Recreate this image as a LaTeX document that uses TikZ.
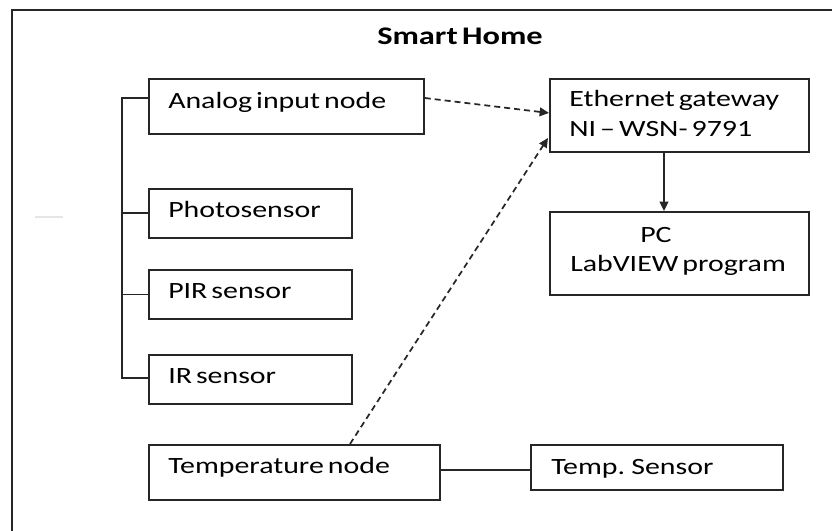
\documentclass[tikz,border=0pt]{standalone}
\usepackage{fontspec}
\setmainfont{Carlito}[FakeStretch=1.28,WordSpace=0.6]
\usetikzlibrary{arrows.meta}
\begin{document}
\begin{tikzpicture}[x=0.75pt,y=-0.75pt,
  ln/.style={line width=1.3pt,draw=black!85},
  box/.style={ln,rectangle,anchor=north west,inner sep=0pt},
  txt/.style={anchor=base west,inner sep=0pt,align=left,
    font=\fontsize{17.5}{22}\selectfont},
  dasharrow/.style={ln,dash pattern=on 4.5pt off 3pt,-{Triangle[length=7pt,width=6.5pt]}},
  solidarrow/.style={ln,-{Triangle[length=7pt,width=6.5pt]}}]
\useasboundingbox (0,0) rectangle (832,531);
\draw[ln] (12,10) rectangle (850,550);
\node[font=\bfseries\fontsize{19}{22}\selectfont,anchor=base west,inner sep=0pt] (title) at (377,45) {Smart Home};
% boxes
\node[box,minimum width=206.25pt,minimum height=41.25pt] (analog) at (148,78) {};
\node[box,minimum width=152.25pt,minimum height=36.75pt] (photo) at (148,188) {};
\node[box,minimum width=152.25pt,minimum height=36.75pt] (pir) at (148,269) {};
\node[box,minimum width=152.25pt,minimum height=36.75pt] (ir) at (148,354) {};
\node[box,minimum width=194.25pt,minimum height=54.75pt] (gw) at (549,78) {};
\node[box,minimum width=194.25pt,minimum height=62.25pt] (pc) at (549,211) {};
\node[box,minimum width=218.25pt,minimum height=41.25pt] (temp) at (148,444) {};
\node[box,minimum width=189pt,minimum height=33.75pt] (tsens) at (530,444) {};
% texts
\node[txt] (analogT) at (168,108.5) {Analog input node};
\node[txt] (photoT) at (168,218) {Photosensor};
\node[txt] (pirT) at (168,298) {PIR sensor};
\node[txt] (irT) at (168,383) {IR sensor};
\node[txt] (gwT1) at (569,107) {Ethernet gateway};
\node[txt] (gwT2) at (569,137) {NI -- WSN- 9791};
\node[txt] (pcT1) at (640,243) {PC};
\node[txt] (pcT2) at (570,272) {LabVIEW program};
\node[txt] (tempT) at (168,473) {Temperature node};
\node[txt] (tsensT) at (551,474) {Temp. Sensor};
% connectors
\coordinate (bt) at (122,98);
\coordinate (bb) at (122,378);
\coordinate (ax) at (664,0);
\coordinate (g1) at (0,113);
\coordinate (g2) at (548,138);
\coordinate (tx) at (350,0);
\coordinate (ty) at (0,470);
\draw[ln] (analog.west |- bt) -- (bt) -- (bb) -- (ir.west |- bb);
\draw[ln] (photo.west) -- (photo.west -| bt);
\draw[ln] (pir.west) -- (pir.west -| bt);
\draw[dasharrow] (analog.east |- bt) -- (gw.west |- g1);
\draw[dasharrow] (temp.north -| tx) -- (g2);
\draw[solidarrow] (gw.south -| ax) -- (pc.north -| ax);
\draw[ln] (temp.east |- ty) -- (tsens.west |- ty);
\coordinate (f1) at (35,217);
\coordinate (f2) at (63,217);
\draw[black!10,line width=0.8pt] (f1) -- (f2);
\end{tikzpicture}
\end{document}
